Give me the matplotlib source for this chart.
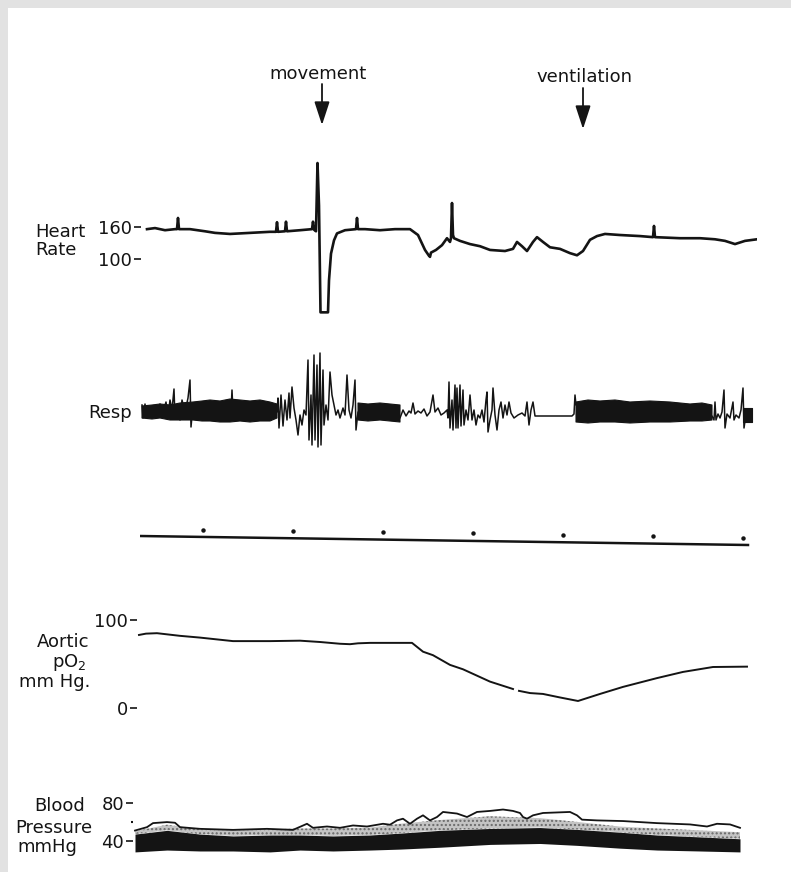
import numpy as np
import matplotlib.pyplot as plt
from matplotlib.patches import Rectangle
from matplotlib.transforms import blended_transform_factory

plt.rcParams["font.family"] = "DejaVu Sans"

# time axis: seconds from start of record, timer dots every 90 s
timer_t = [63, 153, 243, 333, 423, 513, 603]
timer_level = [6, 5, 4, 3, 1, 0, -2]
timeline_t = [0, 608]
timeline_level = [0, -9]

events = ["movement", "ventilation"]
event_t = [182, 443]

# heart rate (beats/min)
hr_t = [7, 15, 25, 35, 37, 38, 39, 50, 65, 75, 90, 110, 130, 136, 137, 138,
        145, 146, 147, 160, 172, 173, 174, 176, 177.5, 179, 180.5, 188, 189,
        191, 194, 197, 205, 216, 217, 218, 225, 240, 255, 270, 278, 285, 289,
        290, 291, 296, 302, 307, 310, 311, 312, 313, 314, 320, 330, 340, 350,
        365, 373, 377, 382, 387, 393, 397, 403, 410, 420, 430, 437, 443, 450,
        457, 465, 480, 500, 513, 514, 515, 540, 560, 575, 585, 595, 605, 617]
hr_bpm = [156, 158, 154, 156, 156, 177, 156, 156, 152, 149, 147, 149, 151, 151,
          169, 151, 152, 170, 152, 154, 156, 170, 155, 152, 280, 200, 0, 0, 60,
          110, 135, 148, 154, 156, 177, 156, 156, 154, 156, 156, 145, 117, 106,
          104, 112, 117, 126, 139, 132, 139, 205, 145, 139, 134, 128, 124, 117,
          115, 119, 132, 124, 115, 132, 141, 132, 122, 119, 111, 107, 115, 136,
          143, 147, 145, 143, 141, 162, 141, 139, 139, 137, 134, 128, 134, 137]

# respiration (pen deflection, arbitrary units)
resp_t = [2, 3, 5, 7, 9, 12, 15, 18, 20, 23, 26, 28, 30, 32, 34, 35, 37, 40, 42,
          45, 48, 50, 51, 53, 91, 92, 93, 137, 138, 139, 141, 143, 145, 147, 149,
          150, 152, 154, 156, 158, 160, 162, 164, 166, 168, 169, 171, 172, 174,
          175, 177, 178, 180, 181, 183, 184, 186, 188, 190, 192, 194, 196, 198,
          200, 203, 205, 207, 209, 211, 213, 215, 216, 218, 260, 263, 266, 269,
          271, 273, 275, 278, 281, 284, 287, 290, 293, 295, 298, 301, 304, 307,
          308, 309, 310, 312, 313, 315, 316, 317, 318, 320, 321, 323, 324, 326,
          328, 330, 332, 334, 336, 338, 340, 342, 344, 346, 347, 348, 350, 352,
          353, 355, 357, 359, 361, 363, 365, 367, 369, 371, 374, 378, 382, 385,
          387, 389, 391, 393, 395, 397, 432, 434, 435, 436, 572, 574, 575, 576,
          578, 580, 582, 584, 585, 587, 590, 593, 594, 596, 599, 601, 603, 604,
          606, 608, 610, 612]
resp_v = [7, -6, 8, -4, 6, -2, 4, -5, 8, 0, 10, -4, 12, 2, 23, -6, 7, -8, 12,
          0, 14, 32, -15, 7, 0, 22, 0, 0, 14, -16, 17, -14, 12, -8, 19,
          -6, 25, 4, -8, -23, -3, -13, 2, -3, 52, -28, 17, -33, 57,
          -28, 47, -35, 59, -33, 42, -13, 7, -8, 40, 17, 7, -3, 2,
          -6, 4, -3, 37, 2, -6, 7, 32, -18, 0, -6, 2, -4, 1,
          -1, 9, -2, 1, -1, 3, -4, 0, 17, 0, 4, -3, -1, 2,
          -6, 30, -16, 12, -18, 27, -16, 24, -16, 27, -14, 22, -13, 2,
          -8, 17, -8, 2, -13, -3, -6, 2, -10, 12, 20, -20, -8, 2,
          24, -3, -18, 2, 10, -6, 7, -3, 10, -1, -6, -3, -1, -4,
          10, -13, 2, 10, -4, -4, -4, -2, 17, 7, -4, -8, 10, -8,
          -2, -6, 0, 22, -16, -2, -6, 10, -8, -3, -6, 2, 24, -16,
          -2, -8, 0, -6]
# dense (unresolved) oscillation bands of the respiration trace
resp_band_t = [2, 12, 20, 30, 40, 53, 62, 70, 80, 90, 100, 110, 120, 130, 137,
               np.nan,
               218, 228, 240, 250, 260, np.nan,
               436, 448, 460, 475, 490, 510, 530, 550, 562, 572, np.nan,
               603, 612]
resp_band_hi = [6, 7, 8, 7, 9, 10, 11, 12, 11, 13, 12, 11, 12, 10, 8, np.nan,
                9, 8, 9, 8, 7, np.nan,
                10, 12, 11, 12, 10, 11, 10, 8, 9, 7, np.nan,
                4, 4]
resp_band_lo = [-6, -7, -6, -8, -8, -8, -9, -9, -10, -10, -9, -10, -9, -9, -6,
                np.nan,
                -8, -9, -8, -9, -10, np.nan,
                -10, -11, -10, -10, -11, -10, -10, -9, -9, -8, np.nan,
                -10, -10]

# aortic pO2 (mmHg); gap where the pen lifted
po2_t = [-1, 6, 17, 40, 60, 93, 130, 160, 180, 200, 210, 218, 230, 260, 272,
         283, 293, 310, 323, 350, 373, 376, 379, 390, 403, 420, 438, 460, 483,
         517, 543, 573, 607]
po2_mmhg = [83, 84.5, 85, 82, 80, 76, 76, 76.5, 75, 73, 72.5, 73.5, 74, 74, 74,
            64, 60, 49, 44, 30, 21.6, np.nan, 19.5, 17, 16, 12, 8, 16, 24,
            34, 41, 46.6, 47]

# blood pressure (mmHg): systolic line, pulse band, haze above the band
bp_sys_t = [-5, 7, 13, 27, 35, 40, 60, 93, 127, 153, 167, 173, 187, 200, 213,
            227, 243, 250, 257, 263, 270, 277, 283, 290, 297, 303, 317, 327,
            337, 350, 363, 373, 380, 383, 387, 393, 403, 430, 437, 442, 457,
            483, 517, 550, 567, 577, 590, 600]
bp_sys = [50.8, 54.4, 58.7, 59.8, 59.1, 54.4, 52.6, 51.5, 52.6, 51.5, 58,
          53.7, 55.1, 53.7, 56.2, 55.1, 58, 57, 61.6, 63.4, 58, 63.4, 67, 61.6,
          65.2, 70.6, 68.9, 65.2, 70.6, 71.7, 73.2, 71.7, 69.5, 65.2, 63.4, 67,
          69.5, 70.6, 67, 62.4, 61.6, 60.9, 58.7, 57.3, 55.1, 58, 57.3, 53.7]
bp_band_t = [-5, 27, 60, 93, 130, 160, 193, 230, 260, 300, 350, 400, 437, 480,
             517, 560, 600]
bp_band_hi = [47, 51, 47, 45, 46, 46, 45, 46, 48, 51, 53, 54, 52, 49, 46, 44, 42]
bp_band_lo = [28, 30, 29, 29, 28, 30, 29, 30, 31, 33, 36, 37, 35, 32, 30, 29, 28]
bp_haze_top = [50, 57, 52, 51, 52, 53, 53, 54, 58, 62, 66, 64, 60, 55, 53, 51, 49]

W, H = 791, 872
INK = "#141414"
FS = 13

fig = plt.figure(figsize=(W / 100, H / 100), dpi=100)
fig.patch.set_facecolor("#e2e2e2")
fig.add_artist(Rectangle((8 / W, 0), 1, (H - 8) / H, transform=fig.transFigure,
                         facecolor="white", edgecolor="none", zorder=-1))


def panel(left, top, bottom, ylim, ticks=(), labels=()):
    # axes sharing one time scale: 1 s per pixel, record starts at x=140
    ax = fig.add_axes([left / W, 1 - bottom / H, (757 - left) / W, (bottom - top) / H])
    ax.set_facecolor("none")
    ax.set_xlim(left - 140, 617)
    ax.set_ylim(*ylim)
    for s in ax.spines.values():
        s.set_visible(False)
    ax.set_xticks([])
    ax.set_yticks(list(ticks))
    ax.set_yticklabels(list(labels))
    ax.tick_params(axis="y", direction="out", length=5, width=1.2, pad=1.5,
                   labelsize=FS, color=INK, labelcolor=INK)
    return ax


def label(x, y, s, ha="left"):
    fig.text(x / W, 1 - y / H, s, ha=ha, va="baseline", fontsize=FS, color=INK)


# heart rate
ax_hr = panel(141, 150, 330, (-33.1, 304.4), [100, 160], ["100", "160"])
ax_hr.plot(hr_t, hr_bpm, color=INK, lw=1.9, solid_joinstyle="round")
label(35, 237, "Heart")
label(35, 255, "Rate")

# event arrows above the record
tr = blended_transform_factory(ax_hr.transData, fig.transFigure)
for name, t, dx, y_text, y_top, y_tip in zip(events, event_t, [-4, 1], [79, 82],
                                              [84, 88], [125, 129]):
    ax_hr.text(t + dx, 1 - y_text / H, name, transform=tr, ha="center",
               va="baseline", fontsize=FS, color=INK)
    ax_hr.annotate("", xy=(t, 1 - y_tip / H), xycoords=tr,
                   xytext=(t, 1 - y_top / H), textcoords=tr, annotation_clip=False,
                   arrowprops=dict(arrowstyle="-|>,head_length=1.1,head_width=0.36",
                                   mutation_scale=13, lw=1.3, color=INK,
                                   shrinkA=0, shrinkB=0))

# respiration
ax_rs = panel(140, 340, 470, (-58, 72))
ax_rs.fill_between(resp_band_t, resp_band_lo, resp_band_hi, color=INK, lw=0.8,
                   edgecolor=INK)
ax_rs.plot(resp_t, resp_v, color=INK, lw=1.1)
label(132, 418, "Resp", ha="right")

# timer trace
ax_tm = panel(140, 500, 560, (-24, 36))
ax_tm.plot(timeline_t, timeline_level, color=INK, lw=1.8)
ax_tm.plot(timer_t, timer_level, "o", color=INK, ms=2.2)

# aortic pO2
ax_po = panel(137, 600, 720, (-13.6, 122.7), [0, 100], ["0", "100"])
ax_po.plot(po2_t, po2_mmhg, color=INK, lw=1.4)
label(89, 647, "Aortic", ha="right")
label(87, 667, "pO$_\\mathregular{2}$", ha="right")
label(90, 687, "mm Hg.", ha="right")

# blood pressure
ax_bp = panel(133, 790, 866, (13, 94), [40, 80], ["40", "80"])
ax_bp.set_yticks([60], minor=True)
ax_bp.tick_params(axis="y", which="minor", length=1.5, width=1.5, color=INK)
ax_bp.fill_between(bp_band_t, bp_band_hi, bp_haze_top, facecolor="#c4c4c4",
                   hatch="....", edgecolor="#6a6a6a", lw=0)
ax_bp.fill_between(bp_band_t, bp_band_lo, bp_band_hi, color=INK, lw=0)
ax_bp.plot(bp_sys_t, bp_sys, color=INK, lw=1.3)
label(85, 811, "Blood", ha="right")
label(92, 833, "Pressure", ha="right")
label(77, 852, "mmHg", ha="right")

fig.savefig("out.png", dpi=100, facecolor=fig.get_facecolor())
